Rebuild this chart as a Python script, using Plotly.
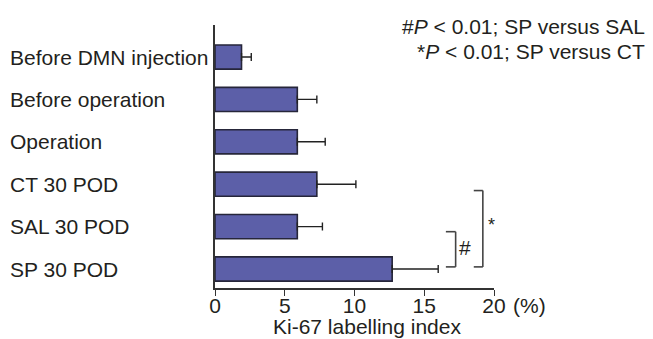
import plotly.graph_objects as go

categories = ["Before DMN injection", "Before operation", "Operation",
              "CT 30 POD", "SAL 30 POD", "SP 30 POD"]
means = [1.9, 5.9, 5.9, 7.3, 5.9, 12.7]
errors = [0.7, 1.4, 2.0, 2.8, 1.8, 3.3]
x_ticks = [0, 5, 10, 15, 20]
x_ticktext = ["0", "5", "10", "15", "20"]
x_unit = "(%)"
x_title = "Ki-67 labelling index"
legend_lines = ["#<i>P</i> &lt; 0.01; SP versus SAL", "*<i>P</i> &lt; 0.01; SP versus CT"]

FONT = "Liberation Sans, Arial, Helvetica, sans-serif"
FS = 21
TXT = "#231f20"
AX = "#333333"

fig = go.Figure()
fig.add_trace(go.Bar(
    y=categories, x=means, orientation="h", width=0.57,
    marker=dict(color="#5c5fa8", line=dict(color="#26263a", width=1.6)),
    error_x=dict(type="data", array=errors, arrayminus=[0] * len(errors),
                 symmetric=False, color="#222222", thickness=1.4, width=4),
    showlegend=False, hoverinfo="skip",
))

idx = {c: i for i, c in enumerate(categories)}

def bracket(x0, x1, ya, yb):
    for (a, b, c, d) in [(x0, ya, x1, ya), (x1, ya, x1, yb), (x0, yb, x1, yb)]:
        fig.add_shape(type="line", xref="x", yref="y", x0=a, y0=b, x1=c, y1=d,
                      line=dict(color="#444444", width=1.6))

bracket(16.55, 17.25, idx["SAL 30 POD"] + 0.12, idx["SP 30 POD"] - 0.05)
bracket(18.55, 19.2, idx["CT 30 POD"] + 0.15, idx["SP 30 POD"] - 0.05)

annotations = []
for c in categories:
    annotations.append(dict(x=-0.742, xref="paper", y=c, yref="y", text=c,
                            xanchor="left", yanchor="middle", showarrow=False,
                            font=dict(family=FONT, size=FS, color=TXT)))
annotations.append(dict(x=17.9, xref="x", y=idx["SAL 30 POD"] + 0.5, yref="y", text="#",
                        showarrow=False, font=dict(family=FONT, size=FS, color=TXT)))
annotations.append(dict(x=19.85, xref="x", y=idx["SAL 30 POD"] - 0.03, yref="y", text="*",
                        showarrow=False, font=dict(family=FONT, size=FS - 3, color=TXT)))
annotations.append(dict(x=20, xref="x", xshift=17, y=-0.068, yref="paper", text=x_unit,
                        xanchor="left", yanchor="middle", showarrow=False,
                        font=dict(family=FONT, size=FS, color=TXT)))
annotations.append(dict(x=0.544, xref="paper", y=-0.148, yref="paper", text=x_title,
                        xanchor="center", yanchor="middle", showarrow=False,
                        font=dict(family=FONT, size=FS, color=TXT)))
for i, t in enumerate(legend_lines):
    annotations.append(dict(x=1.548, xref="paper", y=0.996 - 0.095 * i, yref="paper", text=t,
                            xanchor="right", yanchor="middle", showarrow=False,
                            font=dict(family=FONT, size=FS, color=TXT)))

fig.update_layout(
    width=653, height=339,
    margin=dict(l=215, r=159, t=25, b=51),
    paper_bgcolor="white", plot_bgcolor="white",
    font=dict(family=FONT, size=FS, color=TXT),
    annotations=annotations,
    bargap=0.4,
)
fig.update_xaxes(range=[0, 20], tickvals=x_ticks, ticktext=x_ticktext,
                 showline=True, linecolor=AX, linewidth=1.5,
                 ticks="outside", ticklen=6, tickwidth=1.4, tickcolor=AX,
                 ticklabelstandoff=-8,
                 showgrid=False, zeroline=False,
                 tickfont=dict(family=FONT, size=FS, color=TXT))
fig.update_yaxes(type="category", categoryorder="array", categoryarray=categories,
                 range=[5.448, -0.755],
                 showline=True, linecolor=AX, linewidth=1.5,
                 showticklabels=False, ticks="", showgrid=False, zeroline=False)

fig.write_html("out.html", config={"displayModeBar": False},
               post_script="document.body.style.margin='0px';document.body.style.overflow='hidden';")
